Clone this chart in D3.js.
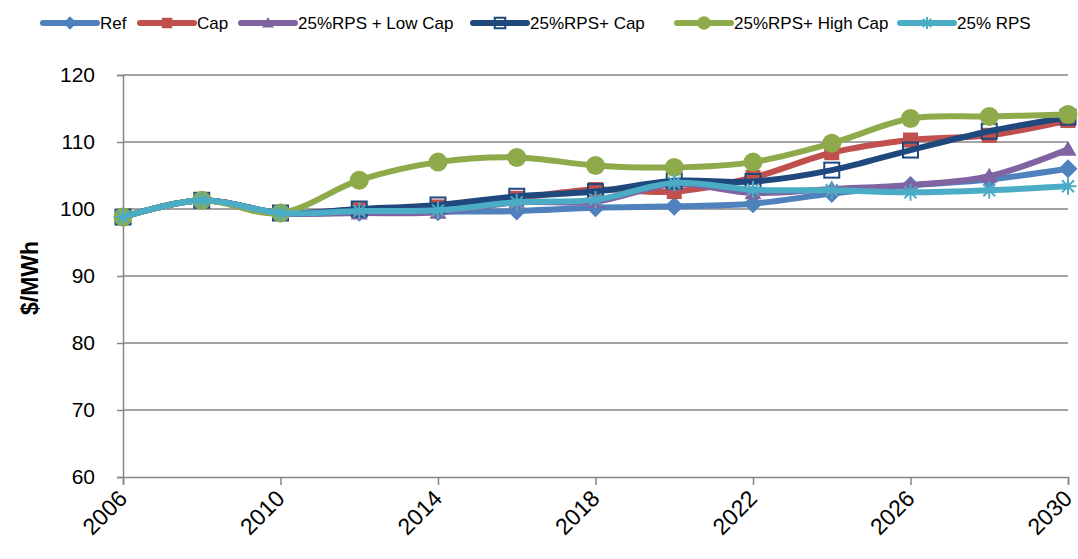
<!DOCTYPE html>
<html><head><meta charset="utf-8">
<script src="https://cdn.jsdelivr.net/npm/d3@7"></script>
<style>body{margin:0;background:#fff}svg{display:block}text{font-family:"Liberation Sans",Arial,sans-serif}</style>
</head><body><svg id="c" width="1078" height="559"></svg>
<script>
const years = [2006,2008,2010,2012,2014,2016,2018,2020,2022,2024,2026,2028,2030];
const seriesNames = ["Ref","Cap","25%RPS + Low Cap","25%RPS+ Cap","25%RPS+ High Cap","25% RPS"];
const ref     = [98.8,101.3,99.4,99.5,99.6,99.7,100.2,100.4,100.8,102.3,103.5,104.4,106.0];
const cap     = [98.8,101.3,99.4,99.9,100.3,101.6,102.9,102.6,104.7,108.4,110.3,111.0,113.2];
const lowCap  = [98.8,101.3,99.4,99.4,99.5,101.0,101.1,103.7,102.4,103.0,103.6,104.9,108.9];
const rpsCap  = [98.8,101.3,99.4,100.0,100.6,101.9,102.6,104.2,104.1,105.8,108.8,111.6,113.7];
const highCap = [98.8,101.3,99.4,104.3,107.0,107.7,106.5,106.2,107.0,109.8,113.5,113.8,114.1];
const rps     = [98.8,101.3,99.4,99.7,99.8,101.0,101.4,103.9,102.9,102.8,102.5,102.8,103.4];
const yTicks = [60,70,80,90,100,110,120];
const xTicks = [2006,2010,2014,2018,2022,2026,2030];

const colors = ["#4F81BD","#C0504D","#8064A2","#1F497D","#8EAA4B","#4BACC6"];
const markers = ["diamond","square","triangle","opensquare","circle","asterisk"];
const data = [ref,cap,lowCap,rpsCap,highCap,rps];

const svg = d3.select("#c");
const x = d3.scaleLinear().domain([2006,2030]).range([123,1068]);
const y = d3.scaleLinear().domain([60,120]).range([477,75]);
const gray = "#868686";

svg.append("g").selectAll("line").data(yTicks.slice(1)).join("line")
  .attr("x1",123).attr("x2",1068).attr("y1",d=>y(d)).attr("y2",d=>y(d))
  .attr("stroke",gray).attr("stroke-width",1.5);

const yAx = svg.append("g").attr("transform","translate(123,0)")
  .call(d3.axisLeft(y).tickValues(yTicks).tickSize(6).tickPadding(20));
yAx.select(".domain").attr("stroke",gray).attr("stroke-width",1.5);
yAx.selectAll(".tick line").attr("stroke",gray).attr("stroke-width",1.5);
yAx.selectAll("text").attr("font-size",21).attr("fill","#000").attr("font-family","Liberation Sans, Arial, sans-serif")
  .attr("transform","translate(-2,0)");

const xAx = svg.append("g").attr("transform","translate(0,477)")
  .call(d3.axisBottom(x).tickValues(xTicks).tickFormat(d3.format("d")).tickSize(8));
xAx.select(".domain").attr("stroke",gray).attr("stroke-width",1.5);
xAx.selectAll(".tick line").attr("stroke",gray).attr("stroke-width",1.5);
xAx.selectAll("text").attr("font-size",23).attr("fill","#000")
  .attr("font-family","Liberation Sans, Arial, sans-serif")
  .attr("text-anchor","end").attr("dy",0).attr("y",0)
  .attr("transform","translate(5,23) rotate(-45)");

svg.append("text").attr("transform","translate(38,278) rotate(-90)")
  .attr("text-anchor","middle").attr("font-size",23).attr("font-weight","bold").text("$/MWh");

function drawMarker(g, type, color, cx, cy, s){
  if(type==="square"){
    g.append("rect").attr("x",cx-7.5*s).attr("y",cy-7.5*s).attr("width",15*s).attr("height",15*s).attr("fill",color);
  } else if(type==="opensquare"){
    g.append("rect").attr("x",cx-7.5*s).attr("y",cy-7.5*s).attr("width",15*s).attr("height",15*s)
     .attr("fill","none").attr("stroke",color).attr("stroke-width",2);
  } else if(type==="triangle"){
    const h=8.5*s;
    g.append("path").attr("d",`M${cx},${cy-h} L${cx+h},${cy+h*0.75} L${cx-h},${cy+h*0.75} Z`).attr("fill",color);
  } else if(type==="circle"){
    g.append("circle").attr("cx",cx).attr("cy",cy).attr("r",9.5*s).attr("fill",color);
  } else if(type==="asterisk"){
    const r=8.5*s;
    [[0,-r,0,r],[-r,0,r,0],[-r*0.7,-r*0.7,r*0.7,r*0.7],[-r*0.7,r*0.7,r*0.7,-r*0.7]].forEach(p=>{
      g.append("line").attr("x1",cx+p[0]).attr("y1",cy+p[1]).attr("x2",cx+p[2]).attr("y2",cy+p[3])
       .attr("stroke",color).attr("stroke-width",2);
    });
  } else if(type==="diamond"){
    const r=9.5*s;
    g.append("path").attr("d",`M${cx},${cy-r} L${cx+r},${cy} L${cx},${cy+r} L${cx-r},${cy} Z`).attr("fill",color);
  }
}

const line = d3.line().x((d,i)=>x(years[i])).y(d=>y(d)).curve(d3.curveCatmullRom.alpha(0));
data.forEach((vals,k)=>{
  const g = svg.append("g");
  g.append("path").attr("d",line(vals)).attr("fill","none").attr("stroke",colors[k])
    .attr("stroke-width",6).attr("stroke-linejoin","round").attr("stroke-linecap","round");
  vals.forEach((v,i)=> drawMarker(g,markers[k],colors[k],x(years[i]),y(v),1));
});

const legX = [43,140,241,473,677,900];
const legY = 23;
seriesNames.forEach((n,k)=>{
  const g = svg.append("g");
  const x0 = legX[k], x1 = x0+54;
  g.append("line").attr("x1",x0).attr("x2",x1).attr("y1",legY).attr("y2",legY)
    .attr("stroke",colors[k]).attr("stroke-width",6).attr("stroke-linecap","round");
  drawMarker(g,markers[k],colors[k],(x0+x1)/2,legY,0.7);
  g.append("text").attr("x",x1+3).attr("y",legY+6).attr("font-size",17).attr("fill","#000").text(n);
});
</script></body></html>
